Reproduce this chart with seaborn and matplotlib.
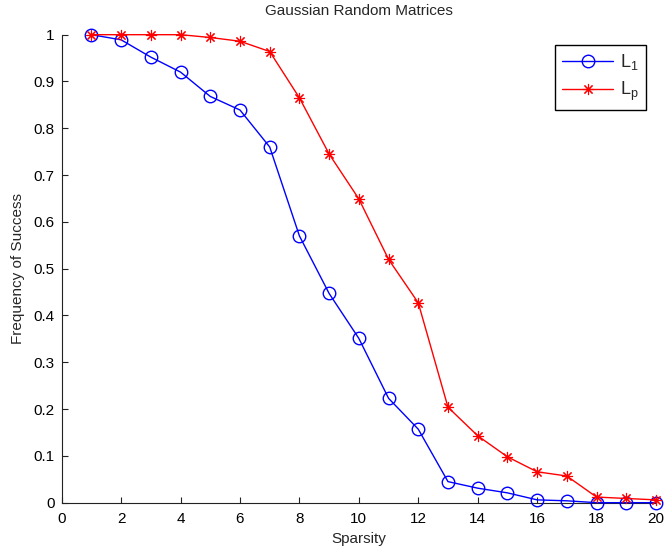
import matplotlib
matplotlib.use('Agg')
import matplotlib.pyplot as plt
import pandas as pd
import seaborn as sns

sparsity = list(range(1, 21))
l1_success = [1.0, 0.989, 0.952, 0.920, 0.868, 0.839, 0.760, 0.570, 0.447, 0.351,
              0.223, 0.157, 0.045, 0.031, 0.021, 0.006, 0.004, 0.0, 0.0, 0.0]
lp_success = [1.0, 1.0, 1.0, 1.0, 0.994, 0.986, 0.964, 0.865, 0.745, 0.649,
              0.520, 0.427, 0.204, 0.143, 0.098, 0.066, 0.057, 0.012, 0.009, 0.006]
labels = [r'$\mathregular{L_1}$', r'$\mathregular{L_p}$']

df = pd.DataFrame({'Sparsity': sparsity * 2,
                   'Frequency of Success': l1_success + lp_success,
                   'Method': ['L1'] * 20 + ['Lp'] * 20})

sns.set_style('white')
plt.rcParams['font.family'] = ['Liberation Sans', 'DejaVu Sans']
plt.rcParams['mathtext.fontset'] = 'custom'
plt.rcParams['mathtext.rm'] = 'Liberation Sans'
plt.rcParams['mathtext.it'] = 'Liberation Sans'

fig = plt.figure(figsize=(6.68, 5.48), dpi=100)
ax = fig.add_axes([0.0924, 0.0827, 0.8896, 0.854])

sns.lineplot(data=df[df['Method'] == 'L1'], x='Sparsity', y='Frequency of Success',
             ax=ax, color='#0000ff', marker='o', markersize=9, mfc='none',
             mec='#0000ff', mew=1, lw=1, label=labels[0], clip_on=False, zorder=3)
sns.lineplot(data=df[df['Method'] == 'Lp'], x='Sparsity', y='Frequency of Success',
             ax=ax, color='#ff0000', marker=(8, 2, 0), markersize=8,
             mec='#ff0000', mew=0.8, lw=1, label=labels[1], clip_on=False, zorder=3)

ax.set_xlim(0, 20)
ax.set_ylim(0, 1)
ax.set_xticks(range(0, 21, 2))
ax.set_yticks([i / 10 for i in range(11)])
ax.yaxis.set_major_formatter(matplotlib.ticker.FuncFormatter(lambda y, _: '{:g}'.format(round(y, 1))))
ax.tick_params(direction='in', length=4.3, width=0.8, labelsize=11, colors='#222222',
               labelcolor='black', bottom=True, left=True)
ax.tick_params(axis='x', pad=7)
ax.tick_params(axis='y', pad=5)
for s in ['top', 'right']:
    ax.spines[s].set_visible(False)
for s in ['left', 'bottom']:
    ax.spines[s].set_color('#222222')
    ax.spines[s].set_linewidth(0.8)

ax.set_xlabel('Sparsity', fontsize=11, labelpad=4)
ax.set_ylabel('Frequency of Success', fontsize=11, labelpad=6)
ax.set_title('Gaussian Random Matrices', fontsize=11, pad=14)

leg = ax.legend(loc='upper right', fontsize=13, handlelength=2.8, frameon=True,
                fancybox=False, framealpha=1, edgecolor='black', borderaxespad=0.55,
                labelspacing=0.45, handletextpad=0.4)
leg.get_frame().set_linewidth(1)

plt.savefig('out.png', dpi=100)
plt.close()
